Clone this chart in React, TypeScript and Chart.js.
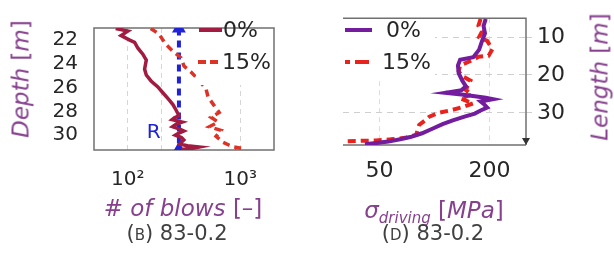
import React, { useEffect, useRef } from "react";
import { Chart, registerables } from "chart.js";
Chart.register(...registerables);

// ---------- Panel (B): # of blows vs depth ----------
const depthB0 = [21.04, 21.26, 21.63, 22.0, 22.2, 22.7, 23.2, 23.7, 24.45, 24.95, 25.45, 25.95, 26.44, 26.94, 27.43, 27.93, 28.37, 28.55, 28.7, 28.9, 29.1, 29.3, 29.5, 29.65, 29.85, 30.0, 30.2, 30.4, 30.6, 30.76, 30.9, 31.0, 31.1, 31.2];
const blowsB0 = [78, 100, 87, 103, 115, 123, 136, 146, 141, 146, 161, 185, 205, 228, 252, 270, 285, 260, 248, 305, 268, 250, 290, 315, 282, 265, 300, 315, 300, 290, 340, 430, 380, 300];
const depthB15 = [21.04, 21.5, 22.0, 22.37, 22.96, 23.5, 24.2, 24.7, 25.3, 26.1, 26.8, 27.5, 28.1, 28.5, 28.9, 29.3, 29.6, 30.1, 30.6, 30.85, 31.0, 31.1, 31.2];
const blowsB15 = [160, 189, 205, 218, 252, 297, 316, 365, 420, 496, 518, 585, 650, 550, 635, 530, 675, 610, 705, 800, 880, 1020, 900];
const depthR = [21.04, 31.2];
const blowsR = [285, 285];
const blowTicks = [100, 200, 1000];
const blowTickLabels: Record<number, string> = { 100: "10²", 1000: "10³" };
const depthTicks = [22, 24, 26, 28, 30];

// ---------- Panel (D): driving stress vs length ----------
const lengthD0 = [5.2, 7.0, 9.0, 11.0, 13.3, 15.3, 16.0, 17.5, 19.5, 21.5, 23.0, 24.0, 24.7, 25.2, 26.0, 26.4, 27.0, 27.8, 28.6, 29.4, 30.2, 31.0, 32.0, 33.0, 34.2, 35.4, 36.4, 37.0, 37.6, 38.0, 38.3];
const stressD0 = [195, 192, 194, 190, 186, 178, 160, 157, 158, 163, 168, 162, 140, 165, 195, 205, 188, 193, 197, 188, 180, 166, 150, 136, 122, 108, 92, 78, 62, 45, 30];
const lengthD15 = [5.2, 7.0, 8.5, 10.0, 11.0, 13.2, 14.9, 15.2, 16.0, 17.5, 19.0, 20.2, 21.5, 23.0, 24.0, 25.2, 26.2, 27.5, 28.5, 29.2, 30.0, 31.0, 32.0, 33.2, 34.5, 35.8, 36.6, 37.0, 37.3, 37.4, 37.5];
const stressD15 = [188, 185, 190, 186, 197, 204, 199, 185, 178, 160, 158, 162, 174, 170, 168, 176, 160, 178, 163, 150, 131, 118, 112, 104, 102, 100, 85, 65, 45, 25, 3];
const stressTicks = [50, 200];
const lengthTicks = [10, 20, 30];
const legendLabels = ["0%", "15%"];

const FONT = '"DejaVu Sans"';
const TICK_COLOR = "#262626";
const PURPLE = "#86408e";
const CRIMSON = "#a11c40";
const RED_B = "#dd3226";
const BLUE = "#1f22d6";
const VIOLET = "#731c9e";
const RED_D = "#e8231e";

const pts = (xs: number[], ys: number[]) => xs.map((x, i) => ({ x, y: ys[i] }));

const panelB = {
  id: "panelB",
  beforeDatasetsDraw(chart: any) {
    const { ctx, chartArea: a } = chart;
    ctx.save();
    ctx.strokeStyle = "#707070";
    ctx.lineWidth = 1.5;
    ctx.strokeRect(a.left, a.top, a.right - a.left, a.bottom - a.top);
    ctx.restore();
  },
  afterDatasetsDraw(chart: any) {
    const { ctx, chartArea: a, scales } = chart;
    ctx.save();
    // R label
    ctx.fillStyle = BLUE;
    ctx.font = `20px ${FONT}`;
    ctx.textAlign = "center";
    ctx.textBaseline = "middle";
    ctx.fillText("R", scales.x.getPixelForValue(170), scales.y.getPixelForValue(29.8));
    // legend
    ctx.fillStyle = "#ffffff";
    ctx.fillRect(196, a.top + 1, a.right - 1 - 196, 84 - a.top);
    ctx.lineWidth = 4;
    ctx.strokeStyle = CRIMSON;
    ctx.beginPath();
    ctx.moveTo(199, 30);
    ctx.lineTo(222, 30);
    ctx.stroke();
    ctx.strokeStyle = RED_B;
    ctx.setLineDash([8, 4]);
    ctx.beginPath();
    ctx.moveTo(198, 62);
    ctx.lineTo(221, 62);
    ctx.stroke();
    ctx.setLineDash([]);
    ctx.fillStyle = TICK_COLOR;
    ctx.font = `22px ${FONT}`;
    ctx.textAlign = "left";
    ctx.fillText(legendLabels[0], 223, 31);
    ctx.fillText(legendLabels[1], 222, 63);
    ctx.restore();
  },
};

const panelD = {
  id: "panelD",
  beforeDatasetsDraw(chart: any) {
    const { ctx, chartArea: a } = chart;
    ctx.save();
    ctx.strokeStyle = "#707070";
    ctx.lineWidth = 1.5;
    ctx.beginPath();
    ctx.moveTo(a.left, a.top);
    ctx.lineTo(a.right, a.top);
    ctx.lineTo(a.right, a.bottom);
    ctx.moveTo(a.left, a.bottom);
    ctx.lineTo(a.right, a.bottom);
    ctx.stroke();
    ctx.restore();
  },
  afterDatasetsDraw(chart: any) {
    const { ctx, chartArea: a } = chart;
    ctx.save();
    // arrow head
    ctx.fillStyle = "#333";
    ctx.beginPath();
    ctx.moveTo(a.right - 4, a.bottom - 7);
    ctx.lineTo(a.right + 4, a.bottom - 7);
    ctx.lineTo(a.right, a.bottom);
    ctx.closePath();
    ctx.fill();
    // legend
    ctx.fillStyle = "#ffffff";
    ctx.fillRect(a.left, a.top + 1, 92, 78 - a.top);
    ctx.lineWidth = 4;
    ctx.strokeStyle = VIOLET;
    ctx.beginPath();
    ctx.moveTo(35, 30);
    ctx.lineTo(62, 30);
    ctx.stroke();
    ctx.strokeStyle = RED_D;
    ctx.setLineDash([14, 5]);
    ctx.lineDashOffset = 9;
    ctx.beginPath();
    ctx.moveTo(35, 62);
    ctx.lineTo(62, 62);
    ctx.stroke();
    ctx.setLineDash([]);
    ctx.fillStyle = TICK_COLOR;
    ctx.font = `22px ${FONT}`;
    ctx.textAlign = "left";
    ctx.textBaseline = "middle";
    ctx.fillText(legendLabels[0], 76, 31);
    ctx.fillText(legendLabels[1], 72, 63);
    ctx.restore();
  },
};

export default function App() {
  const refB = useRef<HTMLCanvasElement>(null);
  const refD = useRef<HTMLCanvasElement>(null);

  useEffect(() => {
    const chartB = new Chart(refB.current!, {
      type: "line",
      data: {
        datasets: [
          {
            data: pts(blowsB0, depthB0),
            borderColor: CRIMSON,
            borderWidth: 3.5,
            pointRadius: 0,
          },
          {
            data: pts(blowsB15, depthB15),
            borderColor: RED_B,
            borderWidth: 3.5,
            borderDash: [7, 5],
            pointRadius: 0,
          },
          {
            data: pts(blowsR, depthR),
            borderColor: BLUE,
            borderWidth: 4,
            borderDash: [7, 5],
            pointRadius: 4,
            pointStyle: "triangle",
            pointBackgroundColor: BLUE,
            pointBorderColor: BLUE,
          },
        ],
      },
      options: {
        responsive: false,
        animation: false,
        devicePixelRatio: 1,
        layout: { padding: { left: 54, right: 26, top: 12, bottom: 5 } },
        plugins: { legend: { display: false }, tooltip: { enabled: false } },
        scales: {
          x: {
            type: "logarithmic",
            min: 50,
            max: 2000,
            afterBuildTicks: (s: any) => {
              s.ticks = blowTicks.map((v) => ({ value: v }));
            },
            afterFit: (s: any) => {
              s.height = 40;
            },
            ticks: {
              callback: (v: any) => blowTickLabels[v as number] ?? "",
              font: { family: FONT, size: 20 },
              color: TICK_COLOR,
              padding: 18,
              maxRotation: 0,
              autoSkip: false,
            },
            grid: { color: "#d6d6d6", lineWidth: 1, drawTicks: false },
            border: { display: false, dash: [5, 4] },
          },
          y: {
            type: "linear",
            reverse: true,
            min: 21,
            max: 31.25,
            afterBuildTicks: (s: any) => {
              s.ticks = depthTicks.map((v) => ({ value: v }));
            },
            afterFit: (s: any) => {
              s.width = 40;
            },
            ticks: {
              font: { family: FONT, size: 20 },
              color: TICK_COLOR,
              padding: 16,
            },
            grid: { display: false, drawTicks: false },
            border: { display: false },
          },
        },
      },
      plugins: [panelB],
    } as any);

    const chartD = new Chart(refD.current!, {
      type: "line",
      data: {
        datasets: [
          {
            data: pts(stressD0, lengthD0),
            borderColor: VIOLET,
            borderWidth: 4,
            pointRadius: 0,
          },
          {
            data: pts(stressD15, lengthD15),
            borderColor: RED_D,
            borderWidth: 4,
            borderDash: [8, 5],
            pointRadius: 0,
          },
        ],
      },
      options: {
        responsive: false,
        animation: false,
        devicePixelRatio: 1,
        layout: { padding: { left: 33, right: 48, top: 8, bottom: 10 } },
        plugins: { legend: { display: false }, tooltip: { enabled: false } },
        scales: {
          x: {
            type: "linear",
            min: 0,
            max: 250,
            afterBuildTicks: (s: any) => {
              s.ticks = stressTicks.map((v) => ({ value: v }));
            },
            afterFit: (s: any) => {
              s.height = 40;
            },
            ticks: {
              font: { family: FONT, size: 22 },
              color: TICK_COLOR,
              padding: 13,
              maxRotation: 0,
              autoSkip: false,
            },
            grid: { color: "#dcdcdc", lineWidth: 1, drawTicks: false },
            border: { display: false, dash: [5, 4] },
          },
          y: {
            type: "linear",
            position: "right",
            reverse: true,
            min: 5,
            max: 38.5,
            afterBuildTicks: (s: any) => {
              s.ticks = lengthTicks.map((v) => ({ value: v }));
            },
            afterFit: (s: any) => {
              s.width = 40;
            },
            ticks: {
              font: { family: FONT, size: 22 },
              color: TICK_COLOR,
              padding: 5,
            },
            grid: { color: "#cfcfcf", lineWidth: 1, drawTicks: true, tickLength: 6 },
            border: { display: false, dash: [6, 5] },
          },
        },
      },
      plugins: [panelD],
    } as any);

    return () => {
      chartB.destroy();
      chartD.destroy();
    };
  }, []);

  const base: React.CSSProperties = {
    position: "absolute",
    whiteSpace: "nowrap",
    lineHeight: 1,
    fontFamily: FONT,
  };
  const centered = (x: number, y: number, extra: React.CSSProperties = {}): React.CSSProperties => ({
    ...base,
    left: x,
    top: y,
    transform: "translate(-50%,-50%)",
    ...extra,
  });
  const rotated = (x: number, y: number, extra: React.CSSProperties = {}): React.CSSProperties => ({
    ...base,
    left: x,
    top: y,
    transform: "translate(-50%,-50%) rotate(-90deg)",
    ...extra,
  });

  return (
    <div style={{ position: "absolute", left: 0, top: 0, width: 614, height: 261, background: "#fff", overflow: "hidden" }}>
      <canvas ref={refB} width={300} height={195} style={{ position: "absolute", left: 0, top: 0 }} />
      <canvas ref={refD} width={304} height={195} style={{ position: "absolute", left: 310, top: 0 }} />

      <div style={rotated(21, 79, { fontSize: 23, color: PURPLE })}>
        <i>Depth</i> [<i>m</i>]
      </div>
      <div style={centered(183, 208, { fontSize: 23, color: PURPLE })}>
        <i># of blows</i> [–]
      </div>
      <div style={centered(177, 233, { fontSize: 21, color: "#404040" })}>
        (<span style={{ fontVariant: "small-caps" }}>b</span>) 83-0.2
      </div>

      <div style={centered(434, 210, { fontSize: 23, color: PURPLE })}>
        <i>σ</i>
        <i style={{ fontSize: 15, position: "relative", top: 5 }}>driving</i> [<i>MPa</i>]
      </div>
      <div style={rotated(600, 77, { fontSize: 23, color: PURPLE })}>
        <i>Length</i> [<i>m</i>]
      </div>
      <div style={centered(433, 233, { fontSize: 21, color: "#404040" })}>
        (<span style={{ fontVariant: "small-caps" }}>d</span>) 83-0.2
      </div>
    </div>
  );
}
